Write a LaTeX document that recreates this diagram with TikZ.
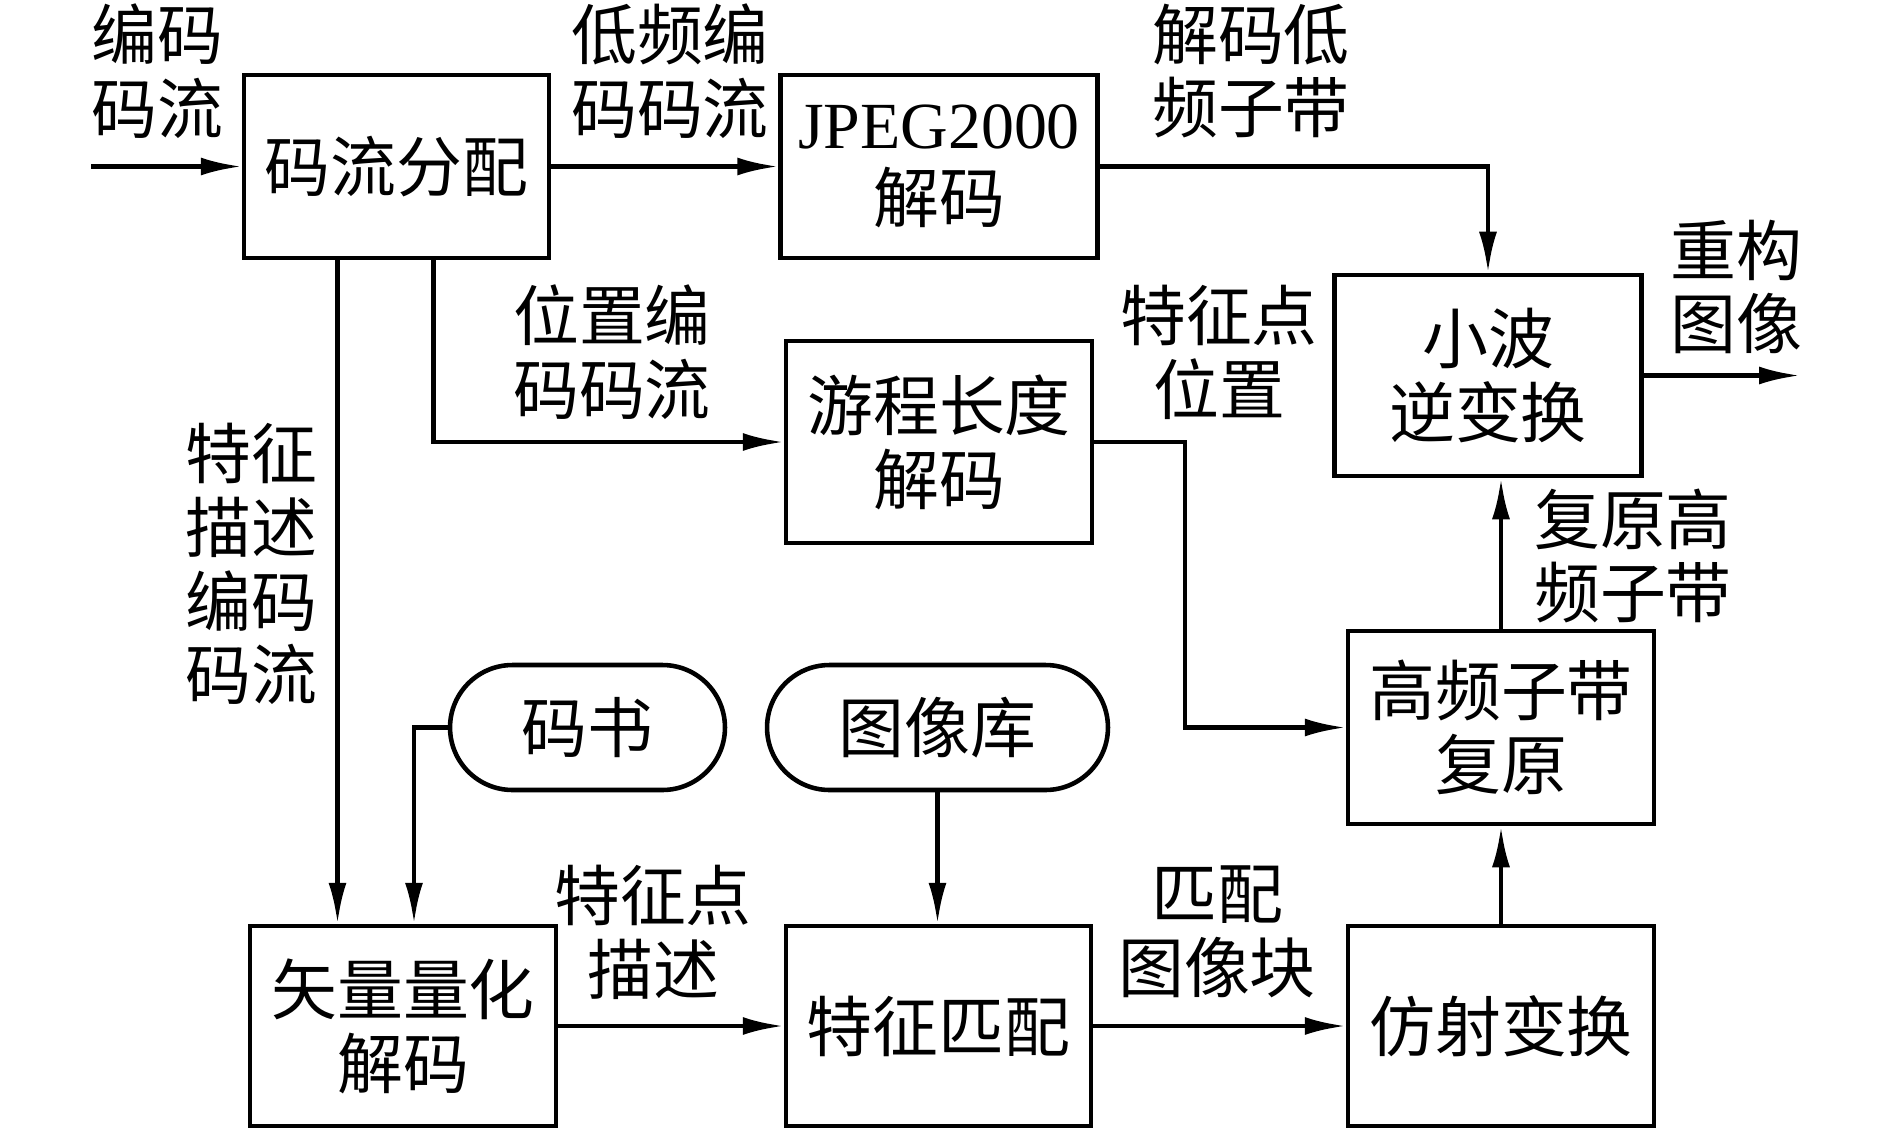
\documentclass[tikz,border=0pt]{standalone}
\usepackage{fontspec}
\setmainfont{Liberation Serif}
\newfontfamily\cjk{Noto Sans CJK SC}
\usetikzlibrary{arrows.meta,shapes.misc}
\begin{document}
\begin{tikzpicture}[x=0.02cm,y=-0.02cm,
  txt/.style={font=\cjk\fontsize{37.5}{42}\selectfont},
  box/.style={txt,draw,line width=2.6pt,inner sep=0pt,align=center},
  store/.style={txt,draw,rounded rectangle,line width=2.6pt,inner sep=0pt,align=center},
  lbl/.style={txt,align=center,inner sep=0pt},
  conn/.style={line width=2.6pt,-{Latex[length=0.82cm,width=0.36cm]}}]
\useasboundingbox (0,0) rectangle (1889,1129);
% boxes
\node[box,minimum width=6.1cm,minimum height=3.66cm] (A) at (396.5,166.5) {码流分配};
\node[box,minimum width=6.34cm,minimum height=3.66cm] (B) at (939,166.5) {{\rmfamily JPEG2000}\\解码};
\node[box,minimum width=6.14cm,minimum height=4.02cm] (C) at (1488,375.5) {小波\\逆变换};
\node[box,minimum width=6.12cm,minimum height=4.04cm] (D) at (939,442) {游程长度\\解码};
\node[box,minimum width=6.12cm,minimum height=3.86cm] (E) at (1501,727.5) {高频子带\\复原};
\node[box,minimum width=6.12cm,minimum height=4.0cm] (F) at (1501,1026) {仿射变换};
\node[box,minimum width=6.1cm,minimum height=4.0cm] (G) at (938.5,1026) {特征匹配};
\node[box,minimum width=6.12cm,minimum height=4.0cm] (H) at (403,1026) {矢量量化\\解码};
\node[store,minimum width=5.5cm,minimum height=2.5cm] (K) at (587.5,727.5) {码书};
\node[store,minimum width=6.82cm,minimum height=2.5cm] (L) at (937.5,727.5) {图像库};
% free ends
\coordinate (in) at (91,166.5);
\coordinate (out) at (1800,375.5);
\coordinate (dm) at (1185,442);
% connectors
\draw[conn] (in) -- (A.west);
\draw[conn] (A.east) -- (B.west);
\draw[conn] (B.east) -| (C.north);
\draw[conn] (C.east) -- (out);
\draw[conn] ([xshift=0.74cm]A.south) |- (D.west);
\draw[conn] ([xshift=-1.18cm]A.south) -- ([xshift=-1.18cm]A.south |- H.north);
\draw[conn] (K.west) -| ([xshift=0.22cm]H.north);
\draw[conn] (L.south) -- (L.south |- G.north);
\draw[conn] (D.east) -- (dm) |- (E.west);
\draw[conn] (E.north) -- (E.north |- C.south);
\draw[conn] (F.north) -- (E.south);
\draw[conn] (H.east) -- (G.west);
\draw[conn] (G.east) -- (F.west);
% labels
\node[lbl] (l1) at (157,71) {编码\\码流};
\node[lbl] (l2) at (670,71) {低频编\\码码流};
\node[lbl] (l3) at (1251,71) {解码低\\频子带};
\node[lbl] (l4) at (1736,287) {重构\\图像};
\node[lbl] (l5) at (612,352) {位置编\\码码流};
\node[lbl] (l6) at (1219,352) {特征点\\位置};
\node[lbl] (l7) at (1633,556) {复原高\\频子带};
\node[lbl] (l8) at (251,564) {特征\\描述\\编码\\码流};
\node[lbl] (l9) at (653,932) {特征点\\描述};
\node[lbl] (l10) at (1217,932) {匹配\\图像块};
\end{tikzpicture}
\end{document}
